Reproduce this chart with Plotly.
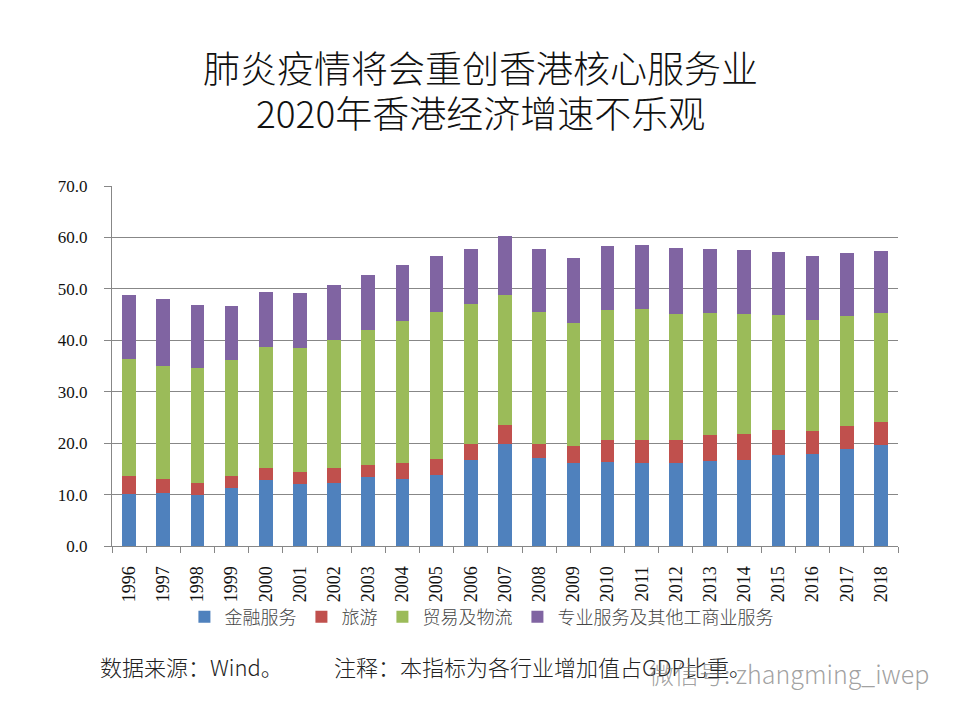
import plotly.graph_objects as go

years = [str(y) for y in range(1996, 2019)]
finance = [10.2, 10.4, 9.9, 11.3, 12.8, 12.1, 12.3, 13.4, 13.0, 13.8, 16.7, 19.8,
           17.2, 16.2, 16.3, 16.2, 16.1, 16.5, 16.7, 17.6, 17.8, 18.8, 19.6]
tourism = [3.4, 2.6, 2.4, 2.3, 2.4, 2.3, 2.9, 2.3, 3.1, 3.1, 3.1, 3.7,
           2.6, 3.3, 4.3, 4.4, 4.5, 5.0, 5.1, 5.0, 4.6, 4.5, 4.5]
trade = [22.7, 22.0, 22.3, 22.5, 23.5, 24.1, 24.9, 26.3, 27.6, 28.6, 27.3, 25.4,
         25.7, 23.9, 25.3, 25.5, 24.6, 23.9, 23.4, 22.4, 21.5, 21.5, 21.3]
professional = [12.5, 13.0, 12.3, 10.6, 10.7, 10.6, 10.6, 10.7, 10.9, 10.9, 10.6, 11.4,
                12.2, 12.6, 12.4, 12.4, 12.7, 12.3, 12.3, 12.2, 12.5, 12.2, 12.0]

series_names = ["金融服务", "旅游", "贸易及物流", "专业服务及其他工商业服务"]
series_values = [finance, tourism, trade, professional]
colors = ["#4F81BD", "#C0504D", "#9BBB59", "#8064A2"]

title_lines = ["肺炎疫情将会重创香港核心服务业", "2020年香港经济增速不乐观"]
source_text = "数据来源：Wind。"
note_text = "注释：本指标为各行业增加值占GDP比重。"
watermark_text = "微信号: zhangming_iwep"

fig = go.Figure()
for name, vals, col in zip(series_names, series_values, colors):
    fig.add_trace(go.Bar(x=years, y=vals, name=name,
                         marker=dict(color=col, line=dict(width=0))))

cjk = "Noto Sans CJK SC"
serif = "Liberation Serif"

T, B, L, R = 186, 174, 112, 62
PH = 720 - T - B
PW = 960 - L - R


def py(pix):
    return (720 - B - pix) / PH


def px(pix):
    return (pix - L) / PW


fig.update_layout(
    width=960, height=720,
    barmode="stack", bargap=0.6,
    paper_bgcolor="white", plot_bgcolor="white",
    margin=dict(l=L, r=R, t=T, b=B),
    showlegend=True,
    legend=dict(orientation="h", x=0.47, xanchor="center", y=py(617), yanchor="middle",
                traceorder="normal", font=dict(family=cjk, size=18, color="#444444", weight=300),
                itemwidth=30, bgcolor="rgba(0,0,0,0)"),
    xaxis=dict(type="category", tickangle=-90, tickson="boundaries", ticks="outside",
               ticklen=6, tickcolor="#878787", showline=True, linecolor="#878787",
               linewidth=1, showgrid=False, ticklabelstandoff=12,
               tickfont=dict(family=serif, size=18, color="#111111")),
    yaxis=dict(range=[0, 70], dtick=10, tickformat=".1f", ticks="outside", ticklen=7,
               tickcolor="#878787", showline=True, linecolor="#878787", linewidth=1,
               showgrid=True, gridcolor="#878787", gridwidth=1, zeroline=False,
               ticklabelstandoff=13,
               tickfont=dict(family=serif, size=17, color="#111111")),
)

for line, ypix in zip(title_lines, [67, 112]):
    fig.add_annotation(text=line, xref="paper", yref="paper", x=px(480), y=py(ypix),
                       xanchor="center", yanchor="middle", showarrow=False,
                       font=dict(family=cjk, size=37, color="#111111", weight=300))

fig.add_annotation(text=source_text, xref="paper", yref="paper",
                   x=px(98), y=py(666), xanchor="left", yanchor="middle",
                   showarrow=False, font=dict(family=cjk, size=22, color="#222222", weight=300))
fig.add_annotation(text=note_text, xref="paper", yref="paper",
                   x=px(332), y=py(666), xanchor="left", yanchor="middle",
                   showarrow=False, font=dict(family=cjk, size=22, color="#222222", weight=300))
fig.add_annotation(text=watermark_text, xref="paper", yref="paper",
                   x=px(647), y=py(673), xanchor="left", yanchor="middle",
                   showarrow=False, font=dict(family=cjk, size=25, color="rgba(120,120,120,0.7)", weight=300))

fig.write_html("out.html")
